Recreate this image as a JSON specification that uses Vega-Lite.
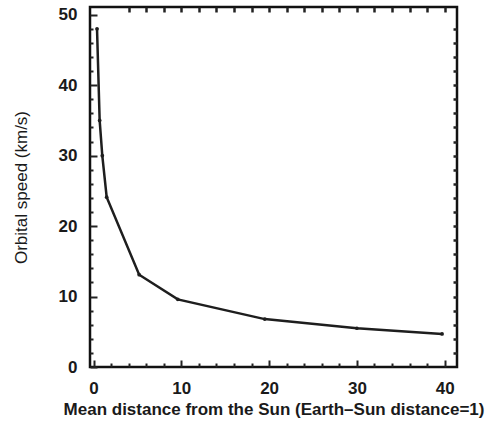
{
  "$schema": "https://vega.github.io/schema/vega-lite/v6.json",
  "autosize": "none",
  "padding": {"left": 90, "top": 7, "right": 46, "bottom": 71},
  "width": 367,
  "height": 360,
  "background": "white",
  "config": {
    "view": {"stroke": "#111", "strokeWidth": 2.5},
    "axis": {"domain": false, "grid": false, "tickColor": "#222", "labelFont": "Liberation Sans", "titleFont": "Liberation Sans", "labelColor": "#1a1a1a", "titleColor": "#1a1a1a"}
  },
  "data": {"values": [
    {"planet": "Mercury", "dist": 0.4, "speed": 48},
    {"planet": "Venus", "dist": 0.7, "speed": 35},
    {"planet": "Earth", "dist": 1.0, "speed": 30},
    {"planet": "Mars", "dist": 1.5, "speed": 24.1},
    {"planet": "Jupiter", "dist": 5.2, "speed": 13.1},
    {"planet": "Saturn", "dist": 9.6, "speed": 9.6},
    {"planet": "Uranus", "dist": 19.5, "speed": 6.8},
    {"planet": "Neptune", "dist": 30.0, "speed": 5.5},
    {"planet": "Pluto", "dist": 39.7, "speed": 4.7}
  ]},
  "layer": [
    {
      "mark": {"type": "line", "color": "#1e1e1e", "strokeWidth": 2.5, "point": {"filled": true, "size": 14, "color": "#1e1e1e"}},
      "encoding": {
        "x": {"field": "dist", "type": "quantitative", "scale": {"domain": [-0.4, 41.4], "nice": false, "zero": false},
          "axis": {"orient": "bottom", "values": [0,2,4,6,8,10,12,14,16,18,20,22,24,26,28,30,32,34,36,38,40],
            "labelExpr": "datum.value % 10 === 0 ? datum.label : ''",
            "tickSize": {"condition": {"test": "datum.value % 10 === 0", "value": -7}, "value": -4},
            "tickWidth": 2, "labelFontSize": 17, "labelFontWeight": "bold", "labelPadding": 20,
            "title": "Mean distance from the Sun (Earth\u2013Sun distance=1)", "titleFontSize": 17, "titleFontWeight": "bold", "titlePadding": 5}},
        "y": {"field": "speed", "type": "quantitative", "scale": {"domain": [0, 51.1], "nice": false},
          "axis": {"orient": "left", "values": [0,2,4,6,8,10,12,14,16,18,20,22,24,26,28,30,32,34,36,38,40,42,44,46,48,50],
            "labelExpr": "datum.value % 10 === 0 ? datum.label : ''",
            "tickSize": {"condition": {"test": "datum.value % 10 === 0", "value": -7}, "value": -3},
            "tickWidth": 2, "labelFontSize": 17, "labelFontWeight": "bold", "labelPadding": 20,
            "title": "Orbital speed (km/s)", "titleFontSize": 17, "titleFontWeight": "normal", "titlePadding": 28}}
      }
    },
    {
      "mark": {"type": "line", "opacity": 0},
      "encoding": {
        "x": {"field": "dist", "type": "quantitative", "scale": {"domain": [-0.4, 41.4], "nice": false, "zero": false},
          "axis": {"orient": "top", "values": [4,6,8,10,12,14,16,18,20,22,24,26,28,30,32,34,36,38,40], "labels": false, "tickSize": -5, "tickWidth": 2.5, "title": null}},
        "y": {"field": "speed", "type": "quantitative", "scale": {"domain": [0, 51.1], "nice": false},
          "axis": {"orient": "right", "values": [2,4,6,8,10,12,14,16,18,20,22,24,26,28,30,32,34,36,38,40,42,44,46,48], "labels": false, "tickSize": -4, "tickWidth": 2.5, "title": null}}
      }
    }
  ],
  "resolve": {"axis": {"x": "independent", "y": "independent"}}
}
